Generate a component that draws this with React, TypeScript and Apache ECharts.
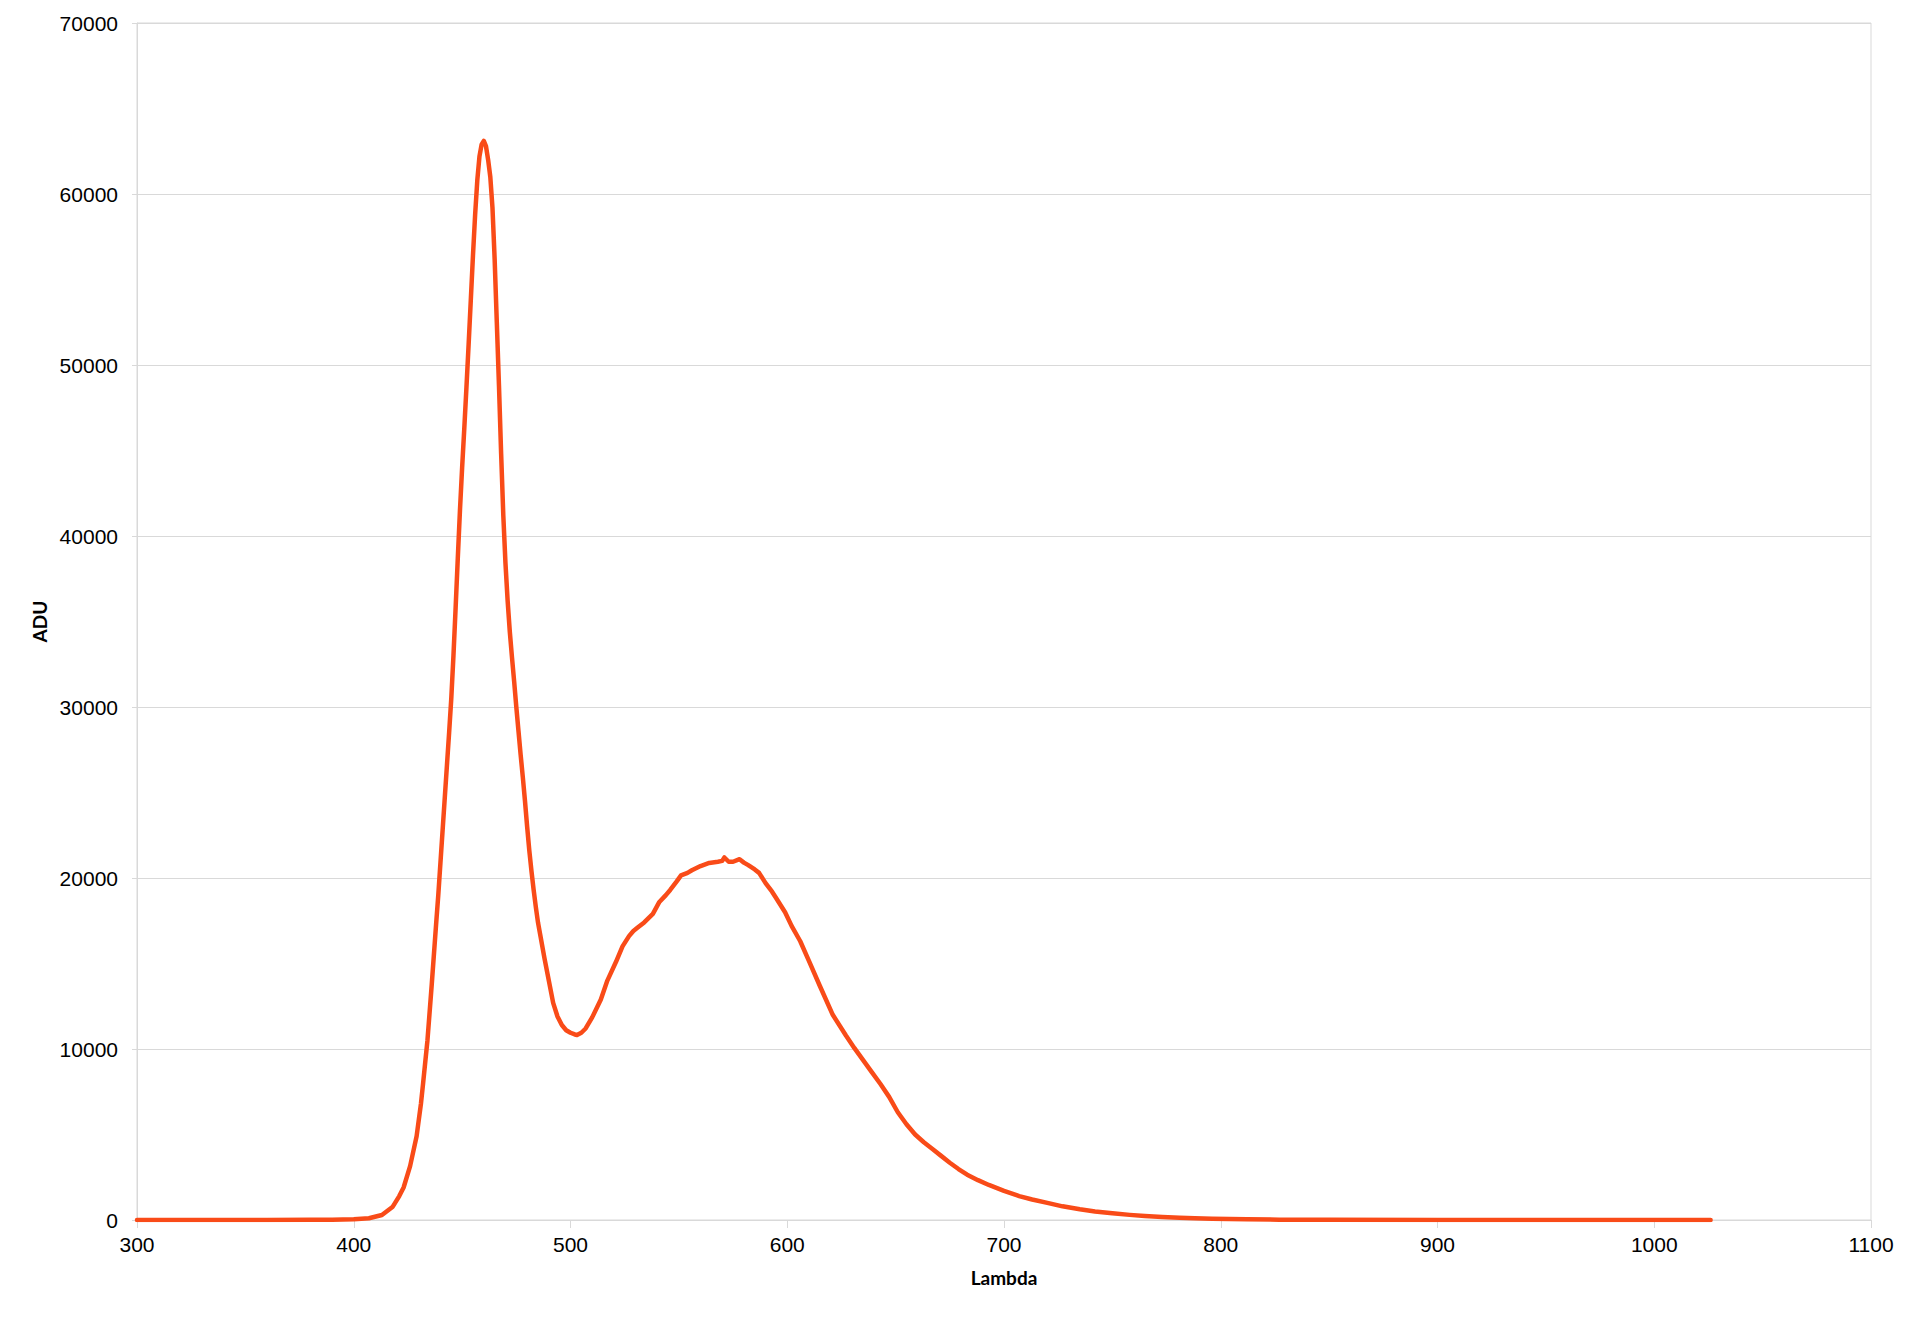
import React, { useEffect, useRef } from "react";
import * as echarts from "echarts";

const lambdaValues = [
  300, 320, 340, 360, 380, 390, 400, 407, 413, 418, 421, 423, 426, 429, 431, 432, 434, 436, 438,
  439, 440, 441, 442, 443, 444, 445, 446, 447, 448, 449, 450, 451, 452, 453, 454, 455, 456, 457,
  458, 459, 460, 461, 462, 463, 464, 465, 466, 467, 468, 469, 470, 471, 472, 473, 474, 475, 476,
  477, 478, 479, 480, 481, 482, 483, 484, 485, 486, 488, 490, 492, 494, 496, 498, 500, 502, 503,
  505, 507, 510, 514, 517, 521, 524, 527, 529, 531, 534, 538, 541, 544, 546, 549, 551, 554, 556,
  560, 564, 568, 570, 571, 573, 575, 578, 580, 582, 585, 587, 590, 593, 595, 599, 602, 606, 610,
  615, 621, 627, 631, 635, 639, 643, 647, 651, 655, 659, 663, 667, 671, 675, 679, 683,
  688, 693, 700, 707, 713, 720, 727, 735, 742, 750, 758, 765, 773, 781, 788, 796, 804, 812,
  827, 850, 900, 950, 1000, 1026,
];

const aduValues = [
  0, 0, 0, 0, 10, 20, 50, 100, 290, 780, 1400, 1900, 3150, 4900, 6800, 8000, 10500, 13800, 17300,
  19000, 20900, 22800, 24700, 26600, 28500, 30500, 33000, 35800, 38700, 41500, 44000, 46300, 48700, 51200, 53800, 56400, 58800, 60800,
  62200, 62900, 63100, 62800, 62000, 61000, 59200, 56200, 52500, 48800, 44800, 41200, 38400, 36200, 34400, 32900, 31500, 30000, 28600,
  27200, 25900, 24500, 23000, 21600, 20400, 19300, 18300, 17400, 16700, 15300, 14000, 12700, 11900, 11400, 11100, 10950, 10850, 10820,
  10950, 11200, 11850, 12900, 14000, 15100, 16000, 16600, 16900, 17100, 17400, 17900, 18600, 19000, 19300, 19800, 20150, 20300, 20450,
  20700, 20880, 20950, 21000, 21200, 20950, 20950, 21100, 20900, 20750, 20500, 20300, 19700, 19200, 18800, 18000, 17200, 16300, 15150,
  13700, 12000, 10800, 10050, 9350, 8650, 7950, 7200, 6300, 5600, 5000, 4550, 4150, 3750, 3350, 2980, 2650,
  2330, 2050, 1700, 1400, 1200, 1000, 800, 625, 500, 390, 300, 235, 180, 137, 105, 78, 55, 40,
  20, 10, 5, 0, 0, 0,
];

const xTicks = { min: 300, max: 1100, interval: 100 };
const yTicks = { min: 0, max: 70000, interval: 10000 };

export default function App() {
  const ref = useRef<HTMLDivElement>(null);

  useEffect(() => {
    if (!ref.current) return;
    const chart = echarts.init(ref.current, null, { renderer: "svg" });
    const seriesData = lambdaValues.map((x, i) => [x, aduValues[i]]);
    const gridColor = "#d9d9d9";
    const plain = (v: number) => String(v);
    chart.setOption({
      animation: false,
      backgroundColor: "#ffffff",
      grid: {
        left: 137,
        right: 49,
        top: 23,
        bottom: 98,
        show: true,
        borderColor: gridColor,
        borderWidth: 1,
      },
      xAxis: {
        type: "value",
        min: xTicks.min,
        max: xTicks.max,
        interval: xTicks.interval,
        name: "Lambda",
        nameLocation: "middle",
        nameGap: 48,
        nameTextStyle: {
          fontFamily: "Lato",
          fontWeight: "bold",
          fontSize: 19,
          color: "#000",
        },
        axisLine: { show: true, lineStyle: { color: gridColor, width: 1 } },
        axisTick: { show: true, inside: false, length: 8, lineStyle: { color: gridColor } },
        axisLabel: {
          margin: 14,
          fontFamily: "Liberation Sans",
          fontSize: 21,
          color: "#000",
          formatter: plain,
        },
        splitLine: { show: false },
      },
      yAxis: {
        type: "value",
        min: yTicks.min,
        max: yTicks.max,
        interval: yTicks.interval,
        name: "ADU",
        nameLocation: "middle",
        nameGap: 81,
        nameTextStyle: {
          fontFamily: "Lato",
          fontWeight: "bold",
          fontSize: 19,
          color: "#000",
        },
        axisLine: { show: true, lineStyle: { color: gridColor, width: 1 } },
        axisTick: { show: true, length: 5, lineStyle: { color: gridColor } },
        axisLabel: {
          margin: 19,
          fontFamily: "Liberation Sans",
          fontSize: 21,
          color: "#000",
          formatter: plain,
        },
        splitLine: { show: true, lineStyle: { color: gridColor, width: 1 } },
      },
      series: [
        {
          type: "line",
          data: seriesData,
          showSymbol: false,
          smooth: false,
          lineStyle: { color: "#f94b18", width: 4.5, join: "round", cap: "round" },
          itemStyle: { color: "#f94b18" },
        },
      ],
    });
    return () => chart.dispose();
  }, []);

  return (
    <div
      ref={ref}
      style={{ position: "absolute", left: 0, top: 0, width: 1920, height: 1318, background: "#fff" }}
    />
  );
}
